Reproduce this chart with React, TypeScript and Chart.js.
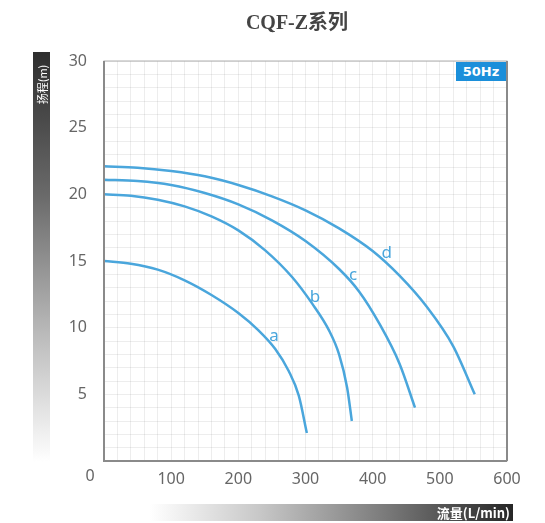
import React, { useEffect, useRef } from 'react';
import { Chart, registerables } from 'chart.js';

Chart.register(...registerables);

// Curve data: flow (L/min) vs head (m)
const flowA = [0, 40, 80, 120, 160, 200, 230, 255, 275, 290, 302];
const headA = [15, 14.8, 14.35, 13.55, 12.45, 11.1, 9.8, 8.4, 6.75, 4.9, 2.1];
const flowB = [0, 40, 80, 120, 160, 200, 240, 280, 310, 335, 350, 362, 369];
const headB = [20, 19.9, 19.6, 19.1, 18.35, 17.3, 15.8, 13.8, 11.8, 9.8, 8.0, 5.5, 3.0];
const flowC = [0, 50, 100, 150, 200, 250, 300, 350, 380, 410, 440, 463];
const headC = [21.1, 21.0, 20.7, 20.1, 19.25, 18.05, 16.5, 14.4, 12.7, 10.3, 7.3, 4.0];
const flowD = [0, 50, 100, 150, 200, 250, 300, 350, 400, 440, 480, 520, 552];
const headD = [22.1, 22.0, 21.75, 21.35, 20.7, 19.85, 18.8, 17.45, 15.75, 13.9, 11.6, 8.6, 5.0];

const curveNames = ['a', 'b', 'c', 'd'];
const labelFlow = [253, 314, 371, 421];
const labelHead = [9.4, 12.3, 13.95, 15.6];

const xTickLabels = [100, 200, 300, 400, 500, 600];
const yTickLabels = [5, 10, 15, 20, 25, 30];

const BLUE = '#4aa6dc';

export default function App() {
  const ref = useRef<HTMLCanvasElement>(null);

  useEffect(() => {
    if (!ref.current) return;
    const flows = [flowA, flowB, flowC, flowD];
    const heads = [headA, headB, headC, headD];
    const overlay = {
      id: 'overlay',
      afterDraw(chart: any) {
        const { ctx, chartArea, scales } = chart;
        ctx.save();
        ctx.strokeStyle = '#b0b0b0';
        ctx.lineWidth = 1;
        ctx.strokeRect(chartArea.left, chartArea.top, chartArea.right - chartArea.left, chartArea.bottom - chartArea.top);
        ctx.strokeStyle = '#8a8a8a';
        ctx.lineWidth = 2;
        ctx.beginPath();
        ctx.moveTo(chartArea.left, chartArea.top);
        ctx.lineTo(chartArea.left, chartArea.bottom);
        ctx.lineTo(chartArea.right, chartArea.bottom);
        ctx.moveTo(chartArea.right, chartArea.top);
        ctx.lineTo(chartArea.right, chartArea.bottom);
        ctx.stroke();
        ctx.fillStyle = '#666';
        ctx.font = '16px "Noto Sans"';
        ctx.textAlign = 'center';
        ctx.textBaseline = 'middle';
        ctx.fillText('0', chartArea.left - 14, chartArea.bottom + 15);
        ctx.fillStyle = BLUE;
        ctx.font = '17px "Noto Sans"';
        curveNames.forEach((n, i) => {
          ctx.fillText(n, scales.x.getPixelForValue(labelFlow[i]), scales.y.getPixelForValue(labelHead[i]));
        });
        ctx.restore();
      },
    };
    const chart = new Chart(ref.current, {
      type: 'scatter',
      data: {
        datasets: flows.map((f, i) => ({
          label: curveNames[i],
          data: f.map((x, j) => ({ x, y: heads[i][j] })),
          showLine: true,
          borderColor: BLUE,
          backgroundColor: BLUE,
          borderWidth: 2.5,
          pointRadius: 0,
          cubicInterpolationMode: 'monotone' as const,
          fill: false,
        })),
      },
      options: {
        responsive: false,
        animation: false,
        layout: { padding: { top: 61, right: 38, left: 0, bottom: 0 } },
        plugins: { legend: { display: false }, tooltip: { enabled: false } },
        scales: {
          x: {
            type: 'linear',
            min: 0,
            max: 600,
            ticks: {
              stepSize: 20,
              autoSkip: false,
              maxRotation: 0,
              padding: 9,
              color: '#666',
              font: { family: '"Noto Sans"', size: 16 },
              callback: (v: any) => (xTickLabels.includes(Number(v)) ? String(v) : ''),
            },
            grid: { color: 'rgba(0,0,0,0.07)', drawTicks: false },
            border: { display: false },
            afterFit: (s: any) => { s.height = 62; },
          },
          y: {
            type: 'linear',
            min: 0,
            max: 30,
            ticks: {
              stepSize: 1,
              autoSkip: false,
              padding: 17,
              color: '#666',
              font: { family: '"Noto Sans"', size: 16 },
              callback: (v: any) => (yTickLabels.includes(Number(v)) ? String(v) : ''),
            },
            grid: { color: 'rgba(0,0,0,0.07)', drawTicks: false },
            border: { display: false },
            afterFit: (s: any) => { s.width = 104; },
          },
        },
      },
      plugins: [overlay],
    });
    return () => chart.destroy();
  }, []);

  return (
    <div style={{ position: 'absolute', left: 0, top: 0, width: 545, height: 523, background: '#fff', overflow: 'hidden' }}>
      <canvas ref={ref} width={545} height={523} style={{ display: 'block', position: 'absolute', left: 0, top: 0 }} />
      <div style={{ position: 'absolute', left: 0, width: 594, top: 6, textAlign: 'center', fontFamily: '"Liberation Serif", "Noto Sans CJK SC", serif', fontWeight: 'bold', fontSize: 20, color: '#444' }}>
        CQF-Z系列
      </div>
      <div style={{ position: 'absolute', left: 456, top: 62, width: 50, height: 19, background: '#1b8fda', color: '#fff', fontFamily: '"DejaVu Sans", sans-serif', fontWeight: 'bold', fontSize: 13, lineHeight: '19px', textAlign: 'center' }}>
        50Hz
      </div>
      <div style={{ position: 'absolute', left: 33, top: 52, width: 17, height: 410, background: 'linear-gradient(to bottom, #2e2e2e 0%, #6a6a6a 35%, #bdbdbd 70%, #ffffff 100%)' }}>
        <div style={{ position: 'absolute', left: 8.5 - 32, top: 32 - 8.5, width: 64, height: 17, color: '#fff', fontFamily: '"Noto Sans CJK SC", sans-serif', fontSize: 11, lineHeight: '17px', textAlign: 'center', whiteSpace: 'nowrap', transform: 'rotate(-90deg)', transformOrigin: '50% 50%' }}>
          扬程(m)
        </div>
      </div>
      <div style={{ position: 'absolute', left: 150, top: 504, width: 363, height: 17, background: 'linear-gradient(to right, #ffffff 0%, #c8c8c8 30%, #7a7a7a 65%, #262626 100%)' }}>
        <div style={{ position: 'absolute', right: 3, top: 0, height: 17, color: '#fff', fontFamily: '"Noto Sans CJK SC", sans-serif', fontWeight: 'bold', fontSize: 13, lineHeight: '17px' }}>
          流量(L/min)
        </div>
      </div>
    </div>
  );
}
